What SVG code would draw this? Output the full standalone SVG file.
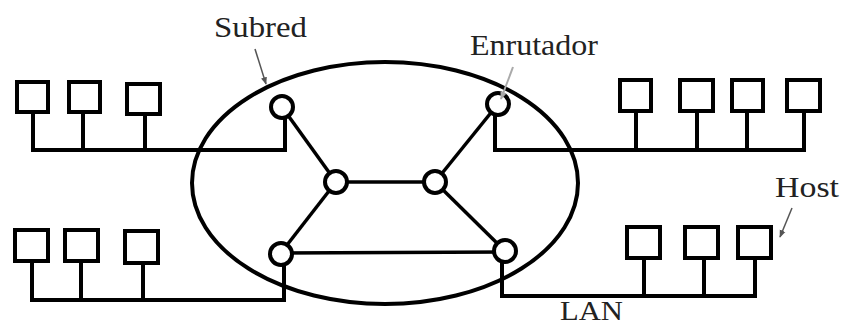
<svg xmlns="http://www.w3.org/2000/svg" width="843" height="327" viewBox="0 0 843 327">
<style>
.wire{stroke:#000;stroke-width:4;fill:none;stroke-linecap:square}
.link{stroke:#000;stroke-width:3.5;fill:none}
.host{stroke:#000;stroke-width:4;fill:#fff}
.router{stroke:#000;stroke-width:4;fill:#fff}
.net{stroke:#000;stroke-width:4;fill:none}
.lbl{font-family:"Liberation Serif","Times New Roman",serif;font-size:30px;fill:#222}
.ptr{stroke:#555;stroke-width:1.5;fill:none}
</style>
<defs>
<marker id="ah" viewBox="0 0 10 10" refX="9" refY="5" markerWidth="5" markerHeight="5" orient="auto">
<path d="M0,1 L10,5 L0,9 z" fill="#555"/>
</marker>
<marker id="ahl" viewBox="0 0 10 10" refX="9" refY="5" markerWidth="4" markerHeight="4" orient="auto">
<path d="M0,1 L10,5 L0,9 z" fill="#aaa"/>
</marker>
</defs>
<rect width="843" height="327" fill="#fff"/>

<g id="subred">
<ellipse class="net" cx="385" cy="183" rx="193" ry="121"/>
</g>

<g id="connectors">
<line class="link" x1="282" y1="107" x2="336" y2="182"/>
<line class="link" x1="498" y1="104" x2="435" y2="182"/>
<line class="link" x1="336" y1="182" x2="435" y2="182"/>
<line class="link" x1="336" y1="182" x2="280" y2="254"/>
<line class="link" x1="435" y1="182" x2="505" y2="251"/>
<line class="link" x1="280" y1="253" x2="505" y2="252"/>
<polyline class="wire" points="285,112 285,150 33,150"/>
<line class="wire" x1="33" y1="113" x2="33" y2="150"/>
<line class="wire" x1="83" y1="113" x2="83" y2="150"/>
<line class="wire" x1="145" y1="116" x2="145" y2="150"/>
<polyline class="wire" points="495,110 495,150 804,150"/>
<line class="wire" x1="636" y1="113" x2="636" y2="150"/>
<line class="wire" x1="697" y1="113" x2="697" y2="150"/>
<line class="wire" x1="747" y1="113" x2="747" y2="150"/>
<line class="wire" x1="804" y1="113" x2="804" y2="150"/>
<polyline class="wire" points="284,260 284,300 32,300"/>
<line class="wire" x1="32" y1="263" x2="32" y2="300"/>
<line class="wire" x1="81" y1="263" x2="81" y2="300"/>
<line class="wire" x1="143" y1="265" x2="143" y2="300"/>
<polyline class="wire" points="502,258 502,296 755,296"/>
<line class="wire" x1="644" y1="260" x2="644" y2="296"/>
<line class="wire" x1="704" y1="260" x2="704" y2="296"/>
<line class="wire" x1="755" y1="260" x2="755" y2="296"/>
</g>

<g id="routers">
<circle id="r-tl" class="router" cx="282" cy="107" r="11"/>
<circle id="r-tr" class="router" cx="498" cy="104" r="11"/>
<circle id="r-ml" class="router" cx="336" cy="182" r="11"/>
<circle id="r-mr" class="router" cx="435" cy="182" r="11"/>
<circle id="r-bl" class="router" cx="281" cy="254" r="11"/>
<circle id="r-br" class="router" cx="505" cy="251" r="11"/>
</g>

<g id="hosts-tl">
<rect class="host" x="17" y="82" width="31" height="30"/>
<rect class="host" x="69" y="82" width="31" height="30"/>
<rect class="host" x="127" y="84" width="33" height="30"/>
</g>
<g id="hosts-tr">
<rect class="host" x="620" y="80" width="31" height="31"/>
<rect class="host" x="680" y="80" width="33" height="31"/>
<rect class="host" x="732" y="80" width="31" height="31"/>
<rect class="host" x="787" y="80" width="33" height="31"/>
</g>
<g id="hosts-bl">
<rect class="host" x="15" y="230" width="33" height="31"/>
<rect class="host" x="65" y="230" width="33" height="31"/>
<rect class="host" x="125" y="231" width="33" height="32"/>
</g>
<g id="hosts-br">
<rect class="host" x="627" y="227" width="33" height="31"/>
<rect class="host" x="685" y="227" width="33" height="31"/>
<rect class="host" x="738" y="227" width="33" height="31"/>
</g>

<g id="labels">
<text class="lbl" x="214" y="37" textLength="93" lengthAdjust="spacingAndGlyphs">Subred</text>
<line class="ptr" x1="255" y1="49" x2="266" y2="84" marker-end="url(#ah)"/>
<text class="lbl" x="470" y="55" textLength="128" lengthAdjust="spacingAndGlyphs">Enrutador</text>
<line class="ptr" x1="513" y1="67" x2="501" y2="99" style="stroke:#aaa;stroke-width:2" marker-end="url(#ahl)"/>
<text class="lbl" x="775" y="197" textLength="64" lengthAdjust="spacingAndGlyphs">Host</text>
<line class="ptr" x1="792" y1="208" x2="780" y2="237" marker-end="url(#ah)"/>
<text class="lbl" x="560" y="320" style="font-size:27px" textLength="63" lengthAdjust="spacingAndGlyphs">LAN</text>
</g>
</svg>
